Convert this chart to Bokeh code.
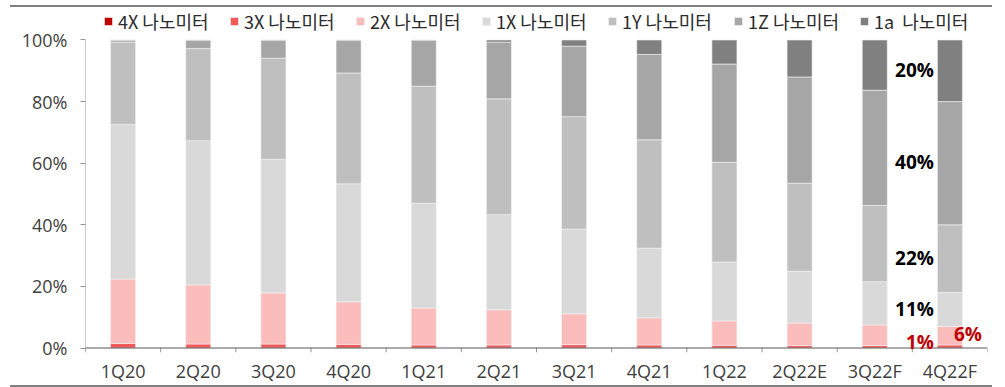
from bokeh.plotting import figure
from bokeh.layouts import column
from bokeh.models import (ColumnDataSource, FactorRange, Range1d, Span, Legend, LegendItem,
                          LabelSet, FixedTicker, PrintfTickFormatter, Div)
from bokeh.core.properties import value
from bokeh.embed import file_html
from bokeh.resources import INLINE

# DRAM node mix by quarter (%), bottom to top of each stack
quarters = ["1Q20", "2Q20", "3Q20", "4Q20", "1Q21", "2Q21", "3Q21", "4Q21",
            "1Q22", "2Q22E", "3Q22F", "4Q22F"]
series_names = ["4X 나노미터", "3X 나노미터", "2X 나노미터", "1X 나노미터",
                "1Y 나노미터", "1Z 나노미터", "1a  나노미터"]
nm_4x = [0, 0, 0, 0, 0, 0, 0, 0, 0, 0, 0, 0]
nm_3x = [1.5, 1.3, 1.3, 1.2, 1.0, 1.0, 1.1, 1.0, 0.9, 0.8, 0.8, 1]
nm_2x = [20.9, 19.2, 16.6, 13.8, 12.0, 11.4, 10.0, 8.8, 7.9, 7.3, 6.7, 6]
nm_1x = [50.2, 46.8, 43.4, 38.3, 34.0, 30.9, 27.5, 22.6, 19.1, 16.8, 14.0, 11]
nm_1y = [26.7, 29.9, 32.8, 36.0, 38.0, 37.6, 36.5, 35.2, 32.4, 28.6, 24.8, 22]
nm_1z = [0.7, 2.8, 5.9, 10.7, 15.0, 18.4, 22.9, 27.7, 31.9, 34.5, 37.4, 40]
nm_1a = [0, 0, 0, 0, 0, 0.7, 2.0, 4.7, 7.8, 12.0, 16.3, 20]
y_ticks = [0, 20, 40, 60, 80, 100]

colors = ["#C00000", "#F25A5A", "#FBBCBC", "#D9D9D9", "#BFBFBF", "#A6A6A6", "#808080"]
keys = ["nm_4x", "nm_3x", "nm_2x", "nm_1x", "nm_1y", "nm_1z", "nm_1a"]
stacks = [nm_4x, nm_3x, nm_2x, nm_1x, nm_1y, nm_1z, nm_1a]

source = ColumnDataSource(dict(q=quarters, **{k: v for k, v in zip(keys, stacks)}))

TICK_DATA = 1.46   # length of the category boundary ticks, in axis units
HEADROOM = 10.55   # room above 100% for the legend, in axis units

p = figure(width=1005, height=378, output_backend="svg", toolbar_location=None,
           x_range=FactorRange(*quarters, range_padding=0),
           y_range=Range1d(-TICK_DATA, 100 + HEADROOM),
           min_border_left=85, min_border_right=18, min_border_top=0,
           min_border_bottom=33)
p.outline_line_color = None
p.grid.visible = False
p.background_fill_color = "white"
p.border_fill_color = None

bars = p.vbar_stack(keys, x="q", width=0.333, color=colors, source=source,
                    line_color="#F4F4F4", line_width=0.6)

# legend across the top
lg = Legend(items=[LegendItem(label=n, renderers=[r]) for n, r in zip(series_names, bars)],
            orientation="horizontal", location=(18, 318),
            background_fill_alpha=0, border_line_color=None, padding=0, margin=0,
            spacing=5, label_standoff=5, glyph_width=10, glyph_height=10, label_width=106,
            label_text_font="Noto Sans CJK KR", label_text_font_size="18px",
            label_text_color="#2B2B2B")
p.add_layout(lg, "center")

# y axis (its line is drawn only up to 100%)
p.yaxis.ticker = FixedTicker(ticks=y_ticks)
p.yaxis.formatter = PrintfTickFormatter(format="%d%%")
p.yaxis.axis_line_color = None
p.yaxis.major_tick_line_color = "#959595"
p.yaxis.major_tick_in = 0
p.yaxis.major_tick_out = 5
p.yaxis.minor_tick_line_color = None
p.yaxis.major_label_standoff = 13
p.yaxis.major_label_text_font = "Open Sans"
p.yaxis.major_label_text_font_size = "18px"
p.yaxis.major_label_text_color = "#404040"
left_edge = [(quarters[0], -0.5)]
p.segment(x0=left_edge, x1=left_edge, y0=[-TICK_DATA], y1=[100],
          line_color="#959595", line_width=1)

# x axis: labels only, baseline and boundary ticks drawn separately
p.xaxis.axis_line_color = None
p.xaxis.major_tick_line_color = None
p.xaxis.major_label_standoff = 0
p.xaxis.major_label_text_font = "Open Sans"
p.xaxis.major_label_text_font_size = "18px"
p.xaxis.major_label_text_color = "#404040"

p.add_layout(Span(location=0, dimension="width", line_color="#595959", line_width=1.2))
bounds = [(q, -0.5) for q in quarters] + [(quarters[-1], 0.5)]
p.segment(x0=bounds, x1=bounds, y0=[0] * len(bounds), y1=[-TICK_DATA] * len(bounds),
          line_color="#959595", line_width=1)

# value labels for the last quarter
last = len(quarters) - 1
base = 0
black_left = dict(x=[], y=[], t=[])
red_left = dict(x=[], y=[], t=[])
red_right = dict(x=[], y=[], t=[])
for name, s in zip(keys, stacks):
    v = s[last]
    mid = base + v / 2
    base += v
    if v == 0:
        continue
    target = {"nm_2x": red_right, "nm_3x": red_left}.get(name, black_left)
    target["x"].append(quarters[last])
    target["y"].append(mid)
    target["t"].append(f"{v:g}%")

label_style = dict(x="x", y="y", text="t", text_baseline="middle",
                   text_font=value("Open Sans"), text_font_size=value("19px"),
                   text_font_style="bold")
p.add_layout(LabelSet(source=ColumnDataSource(black_left), text_color="#000000",
                      x_offset=-16, y_offset=1, text_align="right", **label_style))
p.add_layout(LabelSet(source=ColumnDataSource(red_left), text_color="#C00000",
                      x_offset=-16, y_offset=4, text_align="right", **label_style))
p.add_layout(LabelSet(source=ColumnDataSource(red_right), text_color="#C00000",
                      x_offset=4, y_offset=2, text_align="left", **label_style))

# thin grey rules above and below the chart
rule_top = Div(text="", width=982, height=7, margin=(0, 0, 0, 10),
               styles={"background": "linear-gradient(to bottom, transparent 5px, #808080 5px)"})
rule_bottom = Div(text="", width=982, height=2, margin=(0, 0, 0, 10),
                  styles={"background-color": "#808080"})
page = column(rule_top, p, rule_bottom, spacing=0)

open("out.html", "w").write(file_html(page, INLINE))
